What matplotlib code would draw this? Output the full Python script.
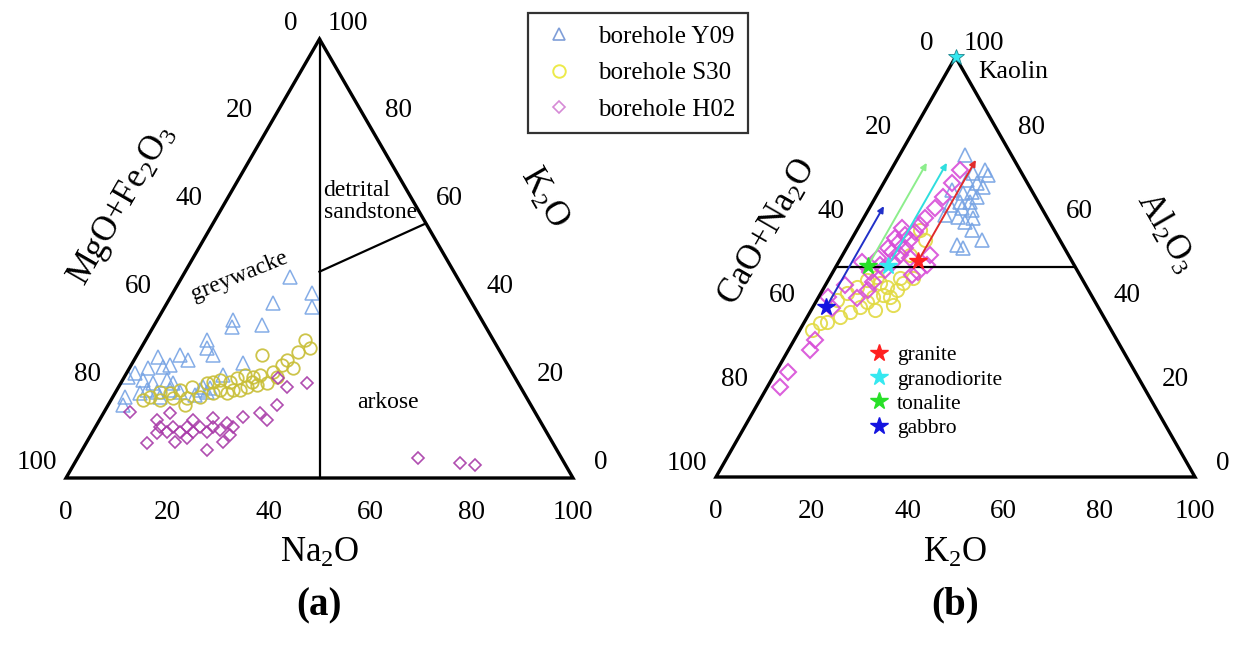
import numpy as np
import matplotlib
matplotlib.use("Agg")
import matplotlib.pyplot as plt
from matplotlib.lines import Line2D
from matplotlib.patches import Polygon

plt.rcParams["font.family"] = ["Liberation Serif", "DejaVu Serif"]
plt.rcParams["mathtext.fontset"] = "custom"
plt.rcParams["mathtext.rm"] = "Liberation Serif"
plt.rcParams["mathtext.it"] = "Liberation Serif:italic"
plt.rcParams["mathtext.bf"] = "Liberation Serif:bold"

# === DATA (wt%) ===
# (a) Na2O - K2O - (MgO+Fe2O3); stored as Na2O and K2O, the rest is MgO+Fe2O3
a_y09_na2o = [21.3, 27.4, 29.0, 20.9, 14.9, 15.5, 21.3, 12.1, 13.0, 15.0, 21.8, 4.3, 8.5, 10.7,
              7.6, 6.5, 3.7, 1.6, 0.7, 19.3, 4.0, 6.4, 8.7, 16.4, 16.6, 18.0, 6.0, 8.1, 4.9,
              2.4, 2.9, 9.3, 10.3, 18.1, 16.0, 12.7, 10.5]
a_y09_k2o = [45.8, 42.1, 38.9, 39.9, 36.0, 34.4, 34.8, 31.4, 29.6, 28.0, 26.2, 27.6, 28.0, 26.9,
             25.7, 25.3, 25.1, 23.9, 23.0, 23.5, 22.3, 21.6, 22.3, 20.0, 20.7, 19.6, 20.0, 19.6,
             19.4, 18.4, 16.6, 18.4, 21.6, 20.5, 18.9, 19.6, 20.0]

a_s30_na2o = [31.4, 33.3, 24.7, 30.2, 29.7, 28.7, 26.6, 25.4, 23.6, 22.3, 21.4, 19.2, 18.1, 28.8,
              27.1, 25.3, 22.9, 20.4, 17.0, 14.6, 12.5, 10.8, 8.7, 7.4, 6.3, 9.6, 12.0, 14.8,
              15.2, 17.2, 19.3, 22.1, 24.3, 30.1, 32.3, 25.8, 31.5]
a_s30_k2o = [31.4, 29.6, 28.0, 26.9, 25.7, 24.1, 23.5, 23.0, 23.5, 22.8, 21.9, 22.3, 21.9, 21.6,
             21.2, 20.7, 20.0, 20.0, 21.6, 20.7, 20.0, 19.4, 19.6, 18.4, 17.8, 17.8, 18.2, 18.2,
             16.6, 18.4, 19.4, 19.4, 20.0, 23.0, 25.1, 21.9, 28.7]

a_h02_na2o = [30.4, 33.2, 36.7, 33.3, 33.0, 30.9, 27.9, 27.1, 25.5, 24.9, 23.2, 22.6, 20.6, 19.8,
              18.1, 17.3, 15.3, 14.7, 12.7, 11.3, 13.1, 5.1, 12.0, 17.4, 19.3, 24.6, 26.9, 27.4,
              12.8, 18.4, 22.2, 67.1, 76.0, 79.2]
a_h02_k2o = [22.8, 20.7, 21.6, 16.6, 13.2, 14.8, 13.9, 11.6, 12.5, 10.9, 11.6, 10.5, 11.6, 10.5,
             11.6, 10.5, 11.6, 10.5, 11.6, 13.2, 14.8, 15.0, 8.0, 8.2, 9.1, 6.4, 8.2, 9.8,
             10.2, 13.2, 13.7, 4.6, 3.4, 3.0]

# field boundary in (a): from the Na2O = MgO+Fe2O3 line to the K2O side
a_split_na2o = [26.5, 42.0]
a_split_k2o = [47.0, 58.0]

# (b) A-CN-K: stored as K2O and Al2O3, the rest is CaO+Na2O
b_y09_k2o = [13.7, 19.7, 17.5, 17.0, 19.5, 21.2, 19.5, 17.8, 21.2, 18.2, 20.3, 19.4, 21.6, 19.5,
             22.9, 21.6, 24.0, 27.3, 22.7, 24.3, 15.1, 16.5, 16.6, 20.8]
b_y09_al2o3 = [76.7, 73.1, 72.4, 70.7, 70.0, 69.0, 67.9, 67.6, 66.7, 65.5, 65.5, 64.0, 63.6, 61.9,
               61.7, 60.7, 58.8, 56.4, 55.2, 54.5, 68.3, 64.8, 62.4, 71.9]

b_s30_k2o = [4.7, 6.9, 8.4, 9.9, 10.7, 11.4, 13.2, 14.9, 15.5, 15.9, 17.4, 13.1, 11.1, 14.7,
             13.2, 9.8, 8.0, 6.8, 5.4, 4.2, 3.4, 2.5, 15.4, 14.1, 16.5, 13.3]
b_s30_al2o3 = [36.9, 38.1, 39.3, 40.5, 41.7, 42.9, 43.3, 42.9, 44.5, 46.2, 47.4, 45.2, 46.2, 47.4,
               58.8, 47.6, 46.9, 45.2, 43.8, 42.1, 36.7, 35.0, 56.4, 52.9, 41.0, 39.8]

b_h02_k2o = [2.7, 2.5, 4.5, 4.4, 8.1, 9.6, 10.7, 11.4, 12.0, 12.2, 12.3, 12.3, 12.6, 12.8,
             13.7, 14.1, 14.3, 18.3, 17.8, 14.4, 9.4, 4.9, 7.7, 8.6, 8.9, 9.2, 9.0, 9.9,
             10.1, 10.7, 7.8, 4.0, 4.1, 2.0, 14.4, 18.9, 16.9]
b_h02_al2o3 = [21.4, 25.0, 30.2, 32.6, 42.6, 46.4, 49.3, 51.2, 52.9, 54.5, 56.4, 58.3, 60.0, 61.7,
               64.0, 66.7, 70.0, 52.9, 48.8, 52.1, 44.5, 51.2, 52.1, 54.5, 56.9, 59.3, 50.5, 53.6,
               55.7, 57.6, 48.8, 45.7, 40.2, 42.9, 73.1, 50.5, 48.1]

rock_names = ["granite", "granodiorite", "tonalite", "gabbro"]
rock_k2o = [16.5, 10.8, 6.6, 2.8]
rock_al2o3 = [51.4, 50.2, 50.2, 40.5]
trend_end_al2o3 = [75.5, 74.8, 74.8, 64.5]
kaolin_k2o, kaolin_al2o3 = 0.0, 100.0

ticks = [0, 20, 40, 60, 80, 100]

# === STYLE ===
star_colors = ["#ff2020", "#35e8f0", "#28e028", "#1414e0"]
arrow_colors = ["#e02a2a", "#2fdede", "#8cee8c", "#2030c8"]
col_y09 = "#78a4e4"
col_s30_a, col_s30_b = "#c8be36", "#e2da44"
col_h02_a, col_h02_b = "#a83aa8", "#d84ed8"

FIG_W, FIG_H = 1250, 657
H = 100 * np.sqrt(3) / 2


def tern(right, top):
    right = np.asarray(right, float)
    top = np.asarray(top, float)
    return right + top / 2.0, top * H / 100.0


fig = plt.figure(figsize=(FIG_W / 100, FIG_H / 100), dpi=100)


def make_panel(x0px, x100px, base_px, apex_px, xlim, ylim):
    sx = (x100px - x0px) / 100.0
    sy = (base_px - apex_px) / H
    left = x0px + xlim[0] * sx
    width = (xlim[1] - xlim[0]) * sx
    bottom = FIG_H - (base_px - ylim[0] * sy)
    height = (ylim[1] - ylim[0]) * sy
    ax = fig.add_axes([left / FIG_W, bottom / FIG_H, width / FIG_W, height / FIG_H])
    ax.set_xlim(xlim)
    ax.set_ylim(ylim)
    ax.axis("off")
    return ax, sx, sy


def frame(ax, sx, sy, dy_top):
    ax.add_patch(Polygon([[0, 0], [100, 0], [50, H]], closed=True, fill=False,
                         edgecolor="black", lw=2.4, joinstyle="miter", zorder=5))
    for v in ticks:
        # bottom axis
        ax.text(v, -34 / sy, str(v), ha="center", va="center", fontsize=19.5)
        # right side (top component)
        x, y = tern(100 - v, v)
        ax.text(x + 28 / sx, y + dy_top / sy, str(v), ha="center", va="center", fontsize=19.5)
        # left side (left component)
        x, y = tern(0, 100 - v)
        ax.text(x - 29 / sx, y + dy_top / sy, str(v), ha="center", va="center", fontsize=19.5)


# ---------- panel (a) ----------
ax_a, sxa, sya = make_panel(66, 573, 478, 39, (-13, 113), (-35, 94))
frame(ax_a, sxa, sya, 16)

ax_a.plot([50, 50], [0, H], color="black", lw=1.6, zorder=4)
ax_a.plot(*tern(a_split_na2o, a_split_k2o), color="black", lw=1.6, zorder=4)

ax_a.plot(*tern(a_y09_na2o, a_y09_k2o), ls="none", marker="^", ms=9.5, mfc="none",
          mec=col_y09, mew=1.1, alpha=0.9)
ax_a.plot(*tern(a_s30_na2o, a_s30_k2o), ls="none", marker="o", ms=9, mfc="none",
          mec=col_s30_a, mew=1.3, alpha=0.9)
ax_a.plot(*tern(a_h02_na2o, a_h02_k2o), ls="none", marker="D", ms=6.5, mfc="none",
          mec=col_h02_a, mew=1.2, alpha=0.9)

ax_a.text(34.3, 39.8, "greywacke", rotation=22, ha="center", va="center", fontsize=17)
ax_a.text(50.8, 54.6, "detrital\nsandstone", ha="left", va="center", fontsize=17,
          linespacing=1.05)
ax_a.text(63.5, 14.8, "arkose", ha="center", va="center", fontsize=17)

ax_a.text(50, -14.8, r"Na$_2$O", ha="center", va="center", fontsize=25)
ax_a.text(11.2, 53.8, r"MgO+Fe$_2$O$_3$", rotation=60, ha="center", va="center", fontsize=25)
ax_a.text(94.1, 55.2, r"K$_2$O", rotation=-60, ha="center", va="center", fontsize=25)
ax_a.text(50, -25.2, "(a)", ha="center", va="center", fontsize=28, fontweight="bold")

# ---------- panel (b) ----------
ax_b, sxb, syb = make_panel(716, 1195, 477, 57, (-14, 111), (-37, 98))
frame(ax_b, sxb, syb, 14)

ax_b.plot(*tern([0, 50], [50, 50]), color="black", lw=1.6, zorder=4)

ax_b.plot(*tern(b_s30_k2o, b_s30_al2o3), ls="none", marker="o", ms=9.5, mfc="none",
          mec=col_s30_b, mew=1.4, alpha=0.9)
ax_b.plot(*tern(b_y09_k2o, b_y09_al2o3), ls="none", marker="^", ms=10.5, mfc="none",
          mec=col_y09, mew=1.2, alpha=0.9)
ax_b.plot(*tern(b_h02_k2o, b_h02_al2o3), ls="none", marker="D", ms=8.5, mfc="none",
          mec=col_h02_b, mew=1.5, alpha=0.9)

for k, a0, a1, c in zip(rock_k2o, rock_al2o3, trend_end_al2o3, arrow_colors):
    ax_b.annotate("", xy=tern(k, a1), xytext=tern(k, a0),
                  arrowprops=dict(arrowstyle="-|>", color=c, lw=1.4, mutation_scale=9,
                                  shrinkA=0, shrinkB=0), zorder=6)

star_handles = []
for k, a, c in zip(rock_k2o, rock_al2o3, star_colors):
    h, = ax_b.plot(*tern([k], [a]), ls="none", marker="*", ms=13, mfc=c, mec=c, zorder=7)
    star_handles.append(h)
ax_b.plot(*tern([kaolin_k2o], [kaolin_al2o3]), ls="none", marker="*", ms=12,
          mfc=star_colors[1], mec="#208890", mew=0.6, zorder=7)

ax_b.text(54.7, 83.5, "Kaolin", ha="left", va="center", fontsize=18.5)
ax_b.legend(star_handles, rock_names, loc="upper left", bbox_to_anchor=(32.0, 27.2),
            bbox_transform=ax_b.transData, frameon=False, fontsize=15.5, numpoints=1,
            handlelength=0.9, handletextpad=0.4, labelspacing=0.2, borderpad=0,
            borderaxespad=0)

ax_b.text(50, -15.7, r"K$_2$O", ha="center", va="center", fontsize=25)
ax_b.text(10.9, 50.3, r"CaO+Na$_2$O", rotation=60, ha="center", va="center", fontsize=25)
ax_b.text(93.9, 50.5, r"Al$_2$O$_3$", rotation=-60, ha="center", va="center", fontsize=25)
ax_b.text(50, -26.4, "(b)", ha="center", va="center", fontsize=28, fontweight="bold")

# ---------- borehole legend ----------
bh_handles = [
    Line2D([], [], ls="none", marker="^", ms=9, mfc="none", mec="#7f9ed8", mew=1.2),
    Line2D([], [], ls="none", marker="o", ms=9, mfc="none", mec="#ecea4a", mew=1.4),
    Line2D([], [], ls="none", marker="D", ms=6, mfc="none", mec="#d68ad6", mew=1.2),
]
leg = fig.legend(bh_handles, ["borehole Y09", "borehole S30", "borehole H02"],
                 loc="upper left", bbox_to_anchor=(528 / FIG_W, 1 - 13 / FIG_H),
                 frameon=True, fancybox=False, edgecolor="black", fontsize=18,
                 borderpad=0.5, labelspacing=0.55, handletextpad=0.8, handlelength=1.5,
                 borderaxespad=0)
leg.get_frame().set_linewidth(1.6)

fig.savefig("out.png", dpi=100)
